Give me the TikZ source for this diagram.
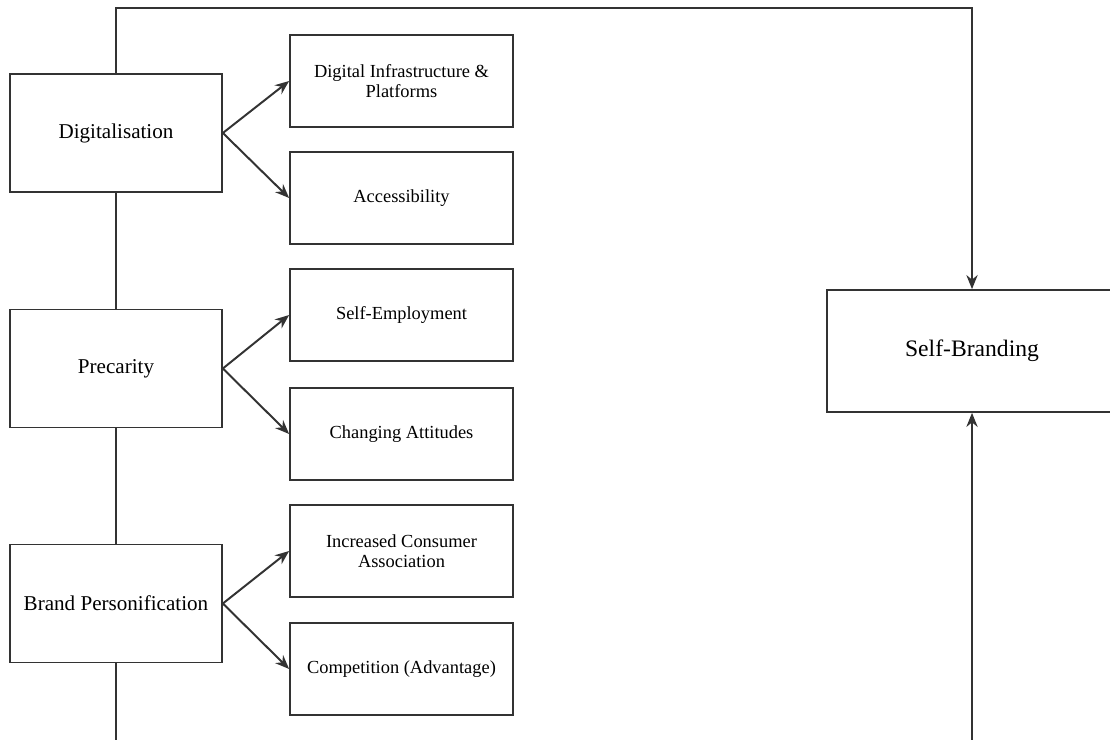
\documentclass[tikz,border=0pt]{standalone}
\usepackage{fontspec}
\setmainfont{Liberation Serif}
\usetikzlibrary{arrows.meta}

\definecolor{linegray}{HTML}{333333}

\tikzset{
    mainbox/.style={draw=linegray, line width=1.2pt, fill=white, inner sep=0pt,
        minimum width=5.3cm, minimum height=2.95cm, align=center,
        font=\fontsize{15}{18}\selectfont},
    subbox/.style={draw=linegray, line width=1.2pt, fill=white, inner sep=0pt,
        minimum width=5.575cm, minimum height=2.3cm, align=center,
        font=\fontsize{13.1}{14.2}\selectfont},
    link/.style={draw=linegray, line width=1.4pt},
    arr/.style={link, -{Stealth[length=10pt, width=8pt]}}
}

\begin{document}
\begin{tikzpicture}[x=0.025cm, y=-0.025cm]
    \def\xl{116};
    \def\xm{401.5};
    \def\xr{972};

    \def\ytop{8};
    \def\ybot{800};

    \useasboundingbox (0,0) rectangle (1110,740);

% drivers on the left

    \node[mainbox] (dig) at (\xl, 133) {Digitalisation};
    \node[mainbox] (prec) at (\xl, 368.5) {Precarity};
    \node[mainbox] (brand) at (\xl, 603.5) {Brand Personification};

% factors in the middle

    \node[subbox] (infra) at (\xm, 81) {Digital Infrastructure \&\\Platforms};
    \node[subbox] (access) at (\xm, 198) {Accessibility};
    \node[subbox] (selfemp) at (\xm, 315) {Self-Employment};
    \node[subbox] (attit) at (\xm, 434) {Changing Attitudes};
    \node[subbox] (consum) at (\xm, 551) {Increased Consumer\\Association};
    \node[subbox] (compet) at (\xm, 669) {Competition (Advantage)};

% outcome

    \node[mainbox, minimum width=7.25cm, minimum height=3.05cm,
        font=\fontsize{16.8}{20}\selectfont] (sb) at (\xr, 351) {Self-Branding};

    \coordinate (tl) at (\xl, \ytop);
    \coordinate (bl) at (\xl, \ybot);

    \draw[arr] (dig.east) -- (infra.west);
    \draw[arr] (dig.east) -- (access.west);
    \draw[arr] (prec.east) -- (selfemp.west);
    \draw[arr] (prec.east) -- (attit.west);
    \draw[arr] (brand.east) -- (consum.west);
    \draw[arr] (brand.east) -- (compet.west);

    \draw[link] (dig.south) -- (prec.north);
    \draw[link] (prec.south) -- (brand.north);
    \draw[arr] (dig.north) -- (tl) -| (sb.north);
    \draw[arr] (brand.south) -- (bl) -| (sb.south);

\end{tikzpicture}
\end{document}
